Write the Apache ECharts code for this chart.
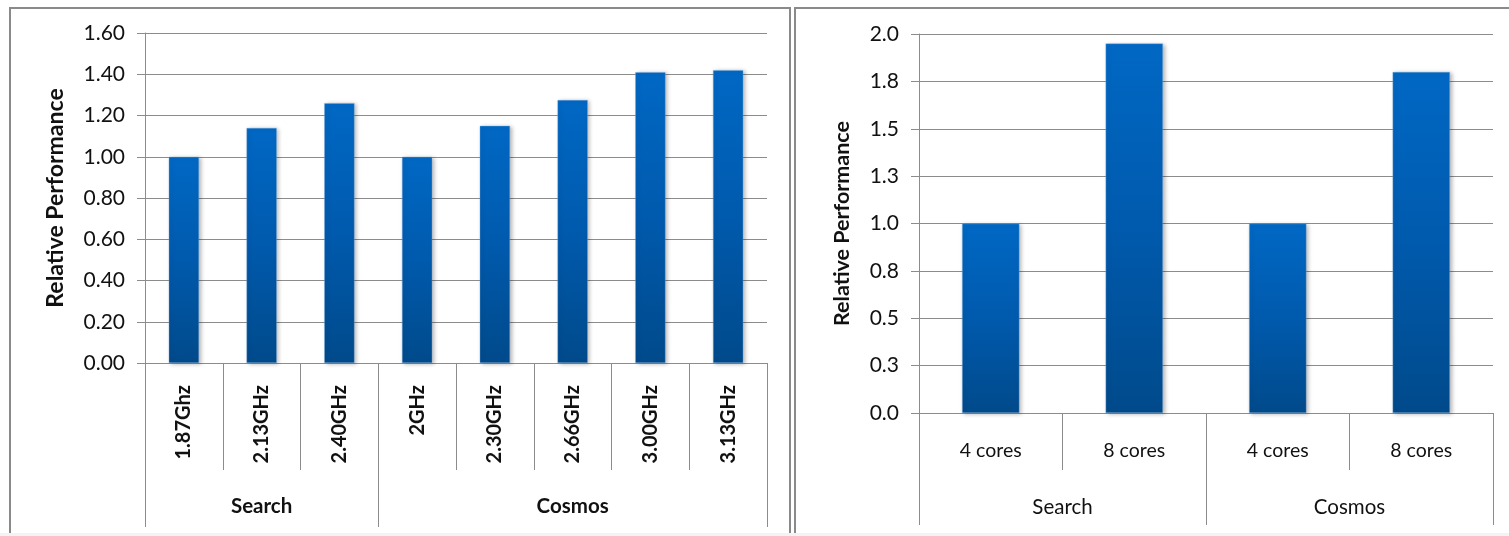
<!DOCTYPE html>
<html>
<head>
<meta charset="utf-8">
<script src="https://cdn.jsdelivr.net/npm/echarts@6/dist/echarts.min.js"></script>
<style>
  html, body { margin: 0; padding: 0; background: #ffffff; }
  #chart { width: 1509px; height: 536px; }
</style>
</head>
<body>
<div id="chart"></div>
<script>
// Clock-speed scaling (left panel)
const freqCategories = ['1.87Ghz', '2.13GHz', '2.40GHz', '2GHz', '2.30GHz', '2.66GHz', '3.00GHz', '3.13GHz'];
const freqValues = [1.00, 1.14, 1.26, 1.00, 1.15, 1.275, 1.41, 1.42];
const freqGroupNames = ['Search', 'Cosmos'];
const freqGroupSizes = [3, 5];
const freqTickLabels = ['0.00', '0.20', '0.40', '0.60', '0.80', '1.00', '1.20', '1.40', '1.60'];

// Core-count scaling (right panel)
const coreCategories = ['4 cores', '8 cores', '4 cores', '8 cores'];
const coreValues = [1.00, 1.95, 1.00, 1.80];
const coreGroupNames = ['Search', 'Cosmos'];
const coreTickLabels = ['0.0', '0.3', '0.5', '0.8', '1.0', '1.3', '1.5', '1.8', '2.0'];

const FONT = 'Lato';
const GRID_GRAY = '#8c8c8c';
const TEXT = '#111111';

// Per-category group labels: the group name sits on the middle category of its span
const freqGroupAxisData = [];
const freqGroupBounds = new Set();
let start = 0;
freqGroupSizes.forEach((size, g) => {
  freqGroupBounds.add(start);
  for (let k = 0; k < size; k++) {
    freqGroupAxisData.push(k === Math.floor(size / 2) ? freqGroupNames[g] : '');
  }
  start += size;
});

const barColor = new echarts.graphic.LinearGradient(0, 0, 0, 1, [
  { offset: 0, color: '#0068c4' },
  { offset: 0.5, color: '#005aad' },
  { offset: 1, color: '#004a8b' }
]);
const barStyle = {
  color: barColor,
  borderColor: 'rgba(120,170,220,0.6)',
  borderWidth: 0.6,
  shadowColor: 'rgba(0,0,0,0.28)',
  shadowBlur: 4,
  shadowOffsetX: 2,
  shadowOffsetY: 1
};

function valueAxis(gridIndex, max, interval, labels, nameGap, nameSize) {
  return {
    type: 'value', gridIndex, min: 0, max, interval,
    name: 'Relative Performance',
    nameLocation: 'middle',
    nameGap,
    nameTextStyle: { fontFamily: FONT, fontWeight: 'bold', fontSize: nameSize, color: TEXT },
    axisLine: { show: true, lineStyle: { color: GRID_GRAY, width: 1 } },
    axisTick: { show: true, inside: false, length: 8, lineStyle: { color: GRID_GRAY } },
    axisLabel: {
      margin: 20, fontFamily: FONT, fontSize: 21, color: TEXT,
      formatter: (v) => labels[Math.round(v / interval)]
    },
    splitLine: { show: true, lineStyle: { color: GRID_GRAY, width: 1 } }
  };
}

const chart = echarts.init(document.getElementById('chart'), null, { renderer: 'canvas' });

chart.setOption({
  backgroundColor: '#ffffff',
  animation: false,
  grid: [
    { left: 145, top: 33, right: 742, bottom: 173 },
    { left: 919, top: 34, right: 16, bottom: 123 }
  ],
  xAxis: [
    {
      type: 'category', gridIndex: 0, data: freqCategories,
      axisLine: { show: true, lineStyle: { color: GRID_GRAY } },
      axisTick: { show: true, inside: false, length: 107, lineStyle: { color: GRID_GRAY } },
      axisLabel: {
        rotate: 90, margin: 22, interval: 0,
        fontFamily: FONT, fontWeight: 'bold', fontSize: 20, color: TEXT
      }
    },
    {
      type: 'category', gridIndex: 0, data: freqGroupAxisData, position: 'bottom',
      axisLine: { show: false },
      axisTick: {
        show: true, inside: false, length: 164, lineStyle: { color: GRID_GRAY },
        interval: (i) => freqGroupBounds.has(i)
      },
      axisLabel: {
        margin: 133, interval: 0,
        fontFamily: FONT, fontWeight: 'bold', fontSize: 20.5, color: TEXT
      }
    },
    {
      type: 'category', gridIndex: 1, data: coreCategories,
      axisLine: { show: true, lineStyle: { color: GRID_GRAY } },
      axisTick: { show: true, inside: false, length: 57, lineStyle: { color: GRID_GRAY } },
      axisLabel: { margin: 28, interval: 0, fontFamily: FONT, fontSize: 19.5, color: TEXT }
    },
    {
      type: 'category', gridIndex: 1, data: coreGroupNames, position: 'bottom',
      axisLine: { show: false },
      axisTick: { show: true, inside: false, length: 112, lineStyle: { color: GRID_GRAY } },
      axisLabel: { margin: 84, interval: 0, fontFamily: FONT, fontSize: 20.5, color: TEXT }
    }
  ],
  yAxis: [
    valueAxis(0, 1.6, 0.2, freqTickLabels, 78, 23),
    valueAxis(1, 2.0, 0.25, coreTickLabels, 66, 21.5)
  ],
  series: [
    {
      type: 'bar', xAxisIndex: 0, yAxisIndex: 0, data: freqValues,
      barWidth: '39%', itemStyle: barStyle
    },
    {
      type: 'bar', xAxisIndex: 2, yAxisIndex: 1, data: coreValues,
      barWidth: '40%', itemStyle: barStyle
    }
  ],
  graphic: [
    {
      type: 'rect', z: 10, silent: true,
      shape: { x: 10, y: 8, width: 780, height: 600 },
      style: { fill: null, stroke: '#8a8a8a', lineWidth: 2 }
    },
    {
      type: 'rect', z: 10, silent: true,
      shape: { x: 795, y: 8, width: 800, height: 600 },
      style: { fill: null, stroke: '#8a8a8a', lineWidth: 2 }
    },
    {
      type: 'rect', z: 11, silent: true,
      shape: { x: 0, y: 533, width: 1509, height: 3 },
      style: { fill: '#f3f3f3' }
    }
  ]
});
</script>
</body>
</html>
